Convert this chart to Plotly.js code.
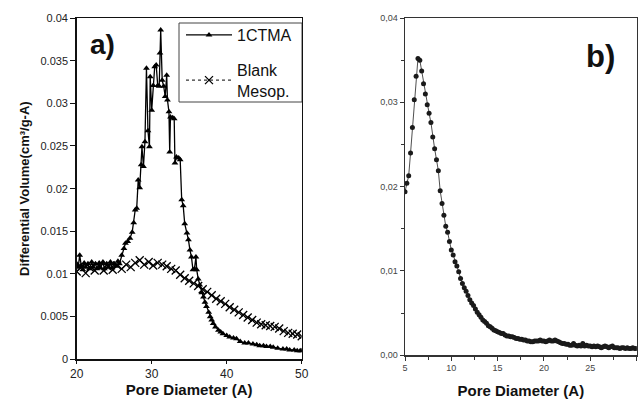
<!DOCTYPE html>
<html>
<head>
<meta charset="utf-8">
<script src="https://cdn.plot.ly/plotly-3.0.1.min.js"></script>
<style>html,body{margin:0;padding:0;background:#fff;}#chart{width:641px;height:399px;}</style>
</head>
<body>
<div id="chart"></div>
<script>
// ---- Panel a) data ----
const ctmaX = [20.0,20.2,20.4,20.6,20.8,21.0,21.2,21.5,21.7,22.0,22.2,22.5,22.7,23.0,23.2,23.5,23.7,24.0,24.2,24.5,24.7,25.0,25.2,25.5,25.7,26.0,26.3,26.5,26.8,27.1,27.4,27.6,27.8,28.0,28.2,28.4,28.6,28.7,28.9,29.1,29.3,29.5,29.7,29.8,30.0,30.2,30.4,30.6,30.8,31.0,31.1,31.2,31.4,31.6,31.8,32.0,32.1,32.3,32.4,32.5,32.8,33.0,33.1,33.3,33.6,33.8,34.0,34.2,34.4,34.7,34.9,35.1,35.3,35.5,35.7,35.9,36.0,36.2,36.4,36.7,36.9,37.1,37.3,37.6,37.8,38.0,38.2,38.5,38.9,39.2,39.5,40.0,40.4,40.9,41.3,41.8,42.4,42.9,43.5,44.0,44.4,44.9,45.3,45.8,46.2,46.8,47.5,48.0,48.4,49.0,49.4,49.8,50.0];
const ctmaY = [0.0112,0.0108,0.0122,0.0110,0.0105,0.0113,0.0108,0.0112,0.0106,0.0114,0.0108,0.0112,0.0106,0.0113,0.0107,0.0114,0.0106,0.0112,0.0108,0.0114,0.0107,0.0112,0.0109,0.0115,0.0112,0.0122,0.0130,0.0136,0.0138,0.0142,0.0149,0.0160,0.0175,0.0177,0.0210,0.0201,0.0228,0.0249,0.0226,0.0255,0.0341,0.0268,0.0249,0.0331,0.0292,0.0321,0.0343,0.0345,0.0321,0.0320,0.0359,0.0386,0.0327,0.0320,0.0308,0.0333,0.0304,0.0290,0.0243,0.0284,0.0283,0.0282,0.0230,0.0237,0.0236,0.0234,0.0187,0.0180,0.0159,0.0148,0.0140,0.0128,0.0120,0.0105,0.0106,0.0120,0.0105,0.0094,0.0087,0.0078,0.0073,0.0067,0.0062,0.0055,0.0050,0.0046,0.0042,0.0038,0.0034,0.0032,0.0030,0.0028,0.0026,0.0025,0.0024,0.0021,0.0019,0.0019,0.0018,0.0017,0.0016,0.0016,0.0015,0.0015,0.0014,0.0013,0.0012,0.0012,0.0011,0.0011,0.0010,0.0010,0.0010];

const blankX = [20.0,20.6,21.2,21.8,22.4,23.0,23.6,24.2,24.8,25.4,26.0,26.6,27.2,27.8,28.4,29.0,29.6,30.2,30.8,31.4,32.0,32.6,33.2,33.8,34.4,35.0,35.6,36.2,36.8,37.4,38.0,38.6,39.2,39.8,40.4,41.0,41.6,42.2,42.8,43.4,44.0,44.6,45.2,45.8,46.4,47.0,47.6,48.2,48.8,49.4,50.0];
const blankY = [0.0103,0.0108,0.0101,0.0107,0.0104,0.0109,0.0104,0.0108,0.0105,0.0110,0.0106,0.0111,0.0108,0.0113,0.0116,0.0111,0.0114,0.0110,0.0113,0.0111,0.0109,0.0106,0.0104,0.0099,0.0095,0.0092,0.0089,0.0086,0.0082,0.0079,0.0075,0.0071,0.0068,0.0065,0.0061,0.0058,0.0055,0.0052,0.0049,0.0046,0.0043,0.0041,0.0040,0.0039,0.0038,0.0036,0.0033,0.0031,0.0030,0.0029,0.0027];

// ---- Panel b) data ----
const bX = [5.0,5.2,5.4,5.6,5.8,6.0,6.2,6.4,6.6,6.8,7.0,7.2,7.4,7.6,7.8,8.0,8.2,8.4,8.6,8.8,9.0,9.2,9.4,9.6,9.8,10.0,10.2,10.4,10.6,10.8,11.0,11.2,11.4,11.6,11.8,12.0,12.2,12.4,12.6,12.8,13.0,13.2,13.4,13.6,13.8,14.0,14.2,14.4,14.6,14.8,15.0,15.2,15.4,15.6,15.8,16.0,16.2,16.4,16.6,16.8,17.0,17.2,17.4,17.6,17.8,18.0,18.2,18.4,18.6,18.8,19.0,19.2,19.4,19.6,19.8,20.0,20.2,20.4,20.6,20.8,21.0,21.2,21.4,21.6,21.8,22.0,22.2,22.4,22.6,22.8,23.0,23.2,23.4,23.6,23.8,24.0,24.2,24.4,24.6,24.8,25.0,25.2,25.4,25.6,25.8,26.0,26.2,26.4,26.6,26.8,27.0,27.2,27.4,27.6,27.8,28.0,28.2,28.4,28.6,28.8,29.0,29.2,29.4,29.6,29.8,30.0];
const bY = [0.0194,0.0204,0.0213,0.0240,0.0270,0.0303,0.0331,0.0352,0.0350,0.0337,0.0322,0.0310,0.0297,0.0287,0.0276,0.0259,0.0245,0.0232,0.0219,0.0195,0.0180,0.0166,0.0153,0.0146,0.0135,0.0125,0.0119,0.0111,0.0106,0.0099,0.0091,0.0085,0.0080,0.0076,0.0071,0.0066,0.0062,0.0059,0.0055,0.0051,0.0048,0.0045,0.0042,0.0040,0.0038,0.0035,0.0034,0.0032,0.0030,0.0029,0.0028,0.0027,0.0026,0.0026,0.0024,0.0023,0.0023,0.0022,0.0022,0.0021,0.0020,0.0020,0.0019,0.0019,0.0018,0.0018,0.0017,0.0017,0.0016,0.0016,0.0017,0.0017,0.0017,0.0018,0.0017,0.0017,0.0016,0.0017,0.0018,0.0017,0.0017,0.0018,0.0017,0.0016,0.0015,0.0014,0.0014,0.0013,0.0013,0.0012,0.0012,0.0014,0.0012,0.0011,0.0012,0.0011,0.0014,0.0011,0.0012,0.0011,0.0011,0.0010,0.0011,0.0010,0.0011,0.0010,0.0009,0.0010,0.0011,0.0010,0.0009,0.0010,0.0011,0.0009,0.0009,0.0009,0.0008,0.0009,0.0009,0.0008,0.0009,0.0008,0.0008,0.0009,0.0008,0.0008];

const bTickVals = [0, 0.01, 0.02, 0.03, 0.04];
const bTickText = ["0,00", "0,01", "0,02", "0,03", "0,04"];

const W = 641, H = 399;
const px = v => v / W;
const py = v => 1 - v / H;
const FAM = 'Liberation Sans, Arial, sans-serif';

const traces = [
  {x: ctmaX, y: ctmaY, xaxis: 'x', yaxis: 'y', name: '1CTMA', legendgroup: 'a',
   type: 'scatter', mode: 'lines+markers',
   line: {color: '#000', width: 1.3},
   marker: {symbol: 'triangle-up', size: 6, color: '#000'}},
  {x: blankX, y: blankY, xaxis: 'x', yaxis: 'y', name: 'Blank<br>Mesop.', legendgroup: 'b',
   type: 'scatter', mode: 'lines+markers',
   line: {color: '#000', width: 1, dash: 'dot'},
   marker: {symbol: 'x-thin', size: 8, color: '#000', line: {color: '#000', width: 1.3}}},
  {x: bX, y: bY, xaxis: 'x2', yaxis: 'y2', showlegend: false,
   type: 'scatter', mode: 'lines+markers',
   line: {color: '#222', width: 0.8},
   marker: {symbol: 'circle', size: 5, color: '#1a1a1a'}}
];

const axFontA = {family: FAM, size: 11, color: '#222'};
const axFontB = {family: FAM, size: 9, color: '#444'};
const titleFont = {family: FAM, size: 15, color: '#111', weight: 'bold'};

const layout = {
  width: W, height: H,
  margin: {l: 0, r: 0, t: 0, b: 0},
  paper_bgcolor: '#fff', plot_bgcolor: '#fff',
  showlegend: true,
  legend: {x: px(181), y: py(18), xanchor: 'left', yanchor: 'top',
           borderwidth: 0, bgcolor: 'rgba(0,0,0,0)', itemwidth: 46,
           font: {family: FAM, size: 16, color: '#111'},
           traceorder: 'grouped', tracegroupgap: 11},
  shapes: [
    {type: 'rect', xref: 'paper', yref: 'paper', x0: px(179), x1: px(302), y0: py(102), y1: py(23),
     line: {color: '#444', width: 1}, fillcolor: 'rgba(0,0,0,0)', layer: 'below'}
  ],
  xaxis: {domain: [px(76.7), px(301.7)], range: [20, 50], dtick: 10, tick0: 20,
          showline: true, linecolor: '#111', linewidth: 1.5, mirror: true,
          ticks: 'outside', ticklen: 3, tickcolor: '#111', showgrid: false, zeroline: false,
          tickfont: {family: FAM, size: 12, color: '#222'},
          title: {text: 'Pore Diameter (A)', font: titleFont, standoff: 4},
          anchor: 'y'},
  yaxis: {domain: [py(359.3), py(18)], range: [0, 0.04], dtick: 0.005,
          showline: true, linecolor: '#111', linewidth: 1.5, mirror: true,
          ticks: 'outside', ticklen: 5, tickcolor: '#111', showgrid: false, zeroline: false,
          tickfont: axFontA,
          title: {text: 'Differential Volume(cm³/g-A)', font: {family: FAM, size: 13, color: '#111', weight: 'bold'}, standoff: 8},
          anchor: 'x'},
  xaxis2: {domain: [px(405), px(636.7)], range: [5, 30.02], tickvals: [5,10,15,20,25,30], tickmode: 'array',
           showline: true, linecolor: '#333', linewidth: 1.3, mirror: true,
           ticks: 'outside', ticklen: 4, tickcolor: '#333', showgrid: false, zeroline: false,
           minor: {tickmode: 'linear', dtick: 2.5, tick0: 5, ticks: 'outside', ticklen: 3, tickcolor: '#333', showgrid: false},
           tickfont: axFontB,
           title: {text: 'Pore Diameter (A)', font: titleFont, standoff: 14},
           anchor: 'y2'},
  yaxis2: {domain: [py(355.3), py(18)], range: [0, 0.04],
           tickmode: 'array', tickvals: bTickVals, ticktext: bTickText,
           showline: true, linecolor: '#333', linewidth: 1.3, mirror: true,
           ticks: 'outside', ticklen: 4, tickcolor: '#333', showgrid: false, zeroline: false,
           minor: {tickmode: 'linear', dtick: 0.005, tick0: 0, ticks: 'outside', ticklen: 3, tickcolor: '#333', showgrid: false},
           tickfont: axFontB,
           anchor: 'x2'},
  annotations: [
    {text: '<b>a)</b>', xref: 'paper', yref: 'paper', x: px(88), y: py(44), xanchor: 'left', yanchor: 'middle',
     showarrow: false, font: {family: FAM, size: 28, color: '#111'}},
    {text: '<b>b)</b>', xref: 'paper', yref: 'paper', x: px(584), y: py(56), xanchor: 'left', yanchor: 'middle',
     showarrow: false, font: {family: FAM, size: 31, color: '#111'}}
  ]
};

Plotly.newPlot('chart', traces, layout, {displayModeBar: false, staticPlot: true});
</script>
</body>
</html>
